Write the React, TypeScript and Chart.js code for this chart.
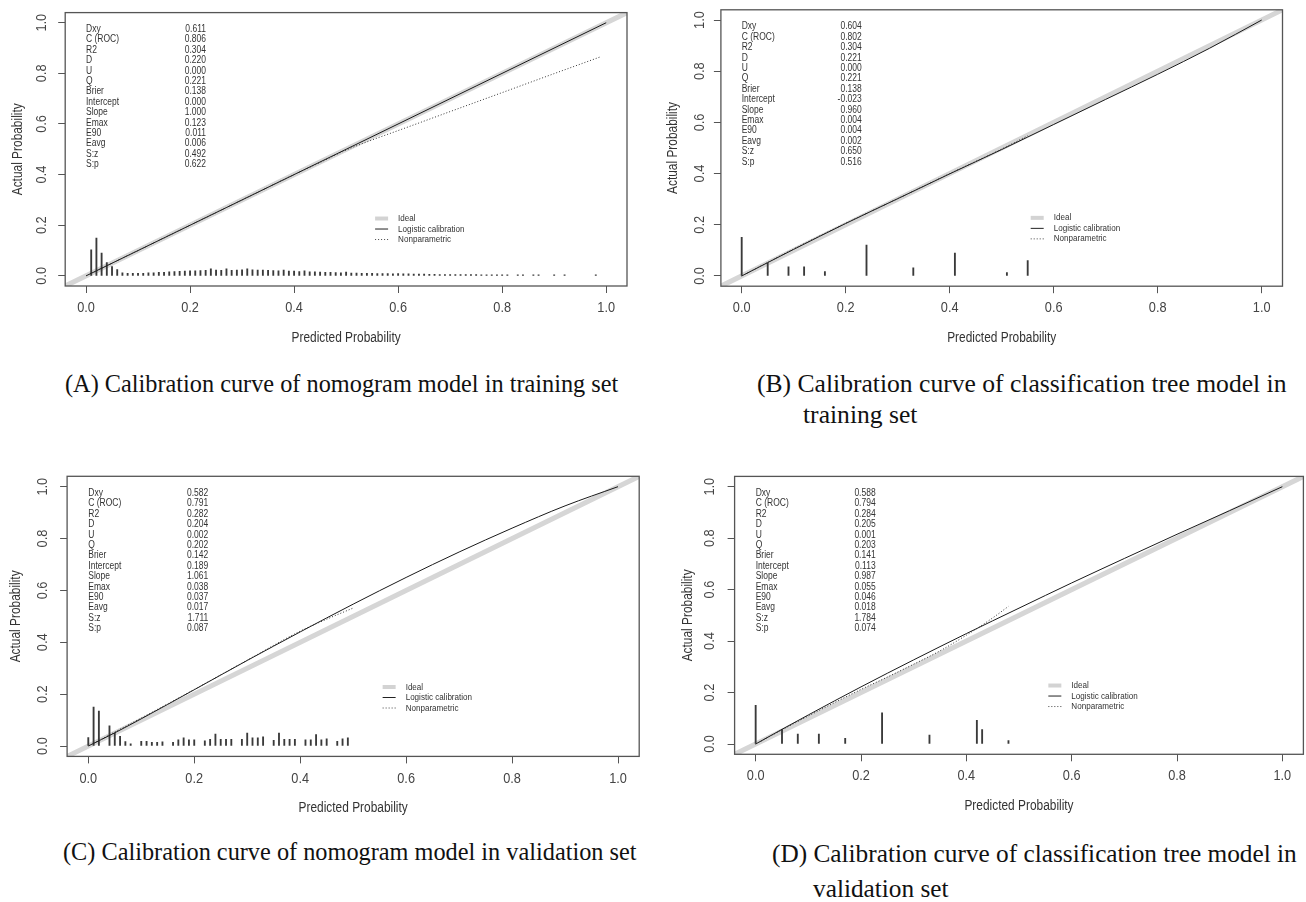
import React, { useEffect, useRef } from "react";
import { Chart, registerables } from "chart.js";
Chart.register(...registerables);

// ---------- shared axis data ----------
const xTickValues = [0, 0.2, 0.4, 0.6, 0.8, 1.0];
const yTickValues = [0, 0.2, 0.4, 0.6, 0.8, 1.0];
const axisMin = -0.04;
const axisMax = 1.04;
const idealX = [-0.04, 1.04];
const idealY = [-0.04, 1.04];
const xTitle = "Predicted Probability";
const yTitle = "Actual Probability";
const legendLabels = ["Ideal", "Logistic calibration", "Nonparametric"];
const statLabels = ["Dxy", "C (ROC)", "R2", "D", "U", "Q", "Brier", "Intercept", "Slope", "Emax", "E90", "Eavg", "S:z", "S:p"];

// ---------- Panel A : nomogram, training ----------
const statsA = ["0.611", "0.806", "0.304", "0.220", "0.000", "0.221", "0.138", "0.000", "1.000", "0.123", "0.011", "0.006", "0.492", "0.622"];
const logisticAX = [0.0, 0.25, 0.5, 0.75, 1.0];
const logisticAY = [0.0, 0.25, 0.5, 0.75, 1.0];
const nonparAX = [0.01, 0.1, 0.2, 0.3, 0.4, 0.45, 0.5, 0.55, 0.6, 0.7, 0.8, 0.9, 0.99];
const nonparAY = [0.01, 0.1, 0.2, 0.3, 0.4, 0.448, 0.497, 0.537, 0.574, 0.649, 0.724, 0.799, 0.866];
const spikeAX = [0.01, 0.02, 0.03, 0.04, 0.05, 0.06, 0.07, 0.08, 0.09, 0.10, 0.11, 0.12, 0.13, 0.14, 0.15, 0.16, 0.17, 0.18, 0.19, 0.20,
  0.21, 0.22, 0.23, 0.24, 0.25, 0.26, 0.27, 0.28, 0.29, 0.30, 0.31, 0.32, 0.33, 0.34, 0.35, 0.36, 0.37, 0.38, 0.39, 0.40,
  0.41, 0.42, 0.43, 0.44, 0.45, 0.46, 0.47, 0.48, 0.49, 0.50, 0.51, 0.52, 0.53, 0.54, 0.55, 0.56, 0.57, 0.58, 0.59, 0.60,
  0.61, 0.62, 0.63, 0.64, 0.65, 0.66, 0.67, 0.68, 0.69, 0.70, 0.71, 0.72, 0.73, 0.74, 0.75, 0.76, 0.77, 0.78, 0.79, 0.80,
  0.81, 0.83, 0.84, 0.86, 0.87, 0.90, 0.92, 0.98];
const spikeAH = [0.103, 0.149, 0.090, 0.053, 0.037, 0.025, 0.012, 0.010, 0.010, 0.010, 0.010, 0.012, 0.012, 0.014, 0.014, 0.016, 0.017, 0.018, 0.019, 0.020,
  0.020, 0.021, 0.022, 0.028, 0.023, 0.022, 0.028, 0.022, 0.023, 0.024, 0.028, 0.024, 0.023, 0.023, 0.022, 0.021, 0.020, 0.023, 0.019, 0.019,
  0.017, 0.020, 0.016, 0.016, 0.015, 0.014, 0.014, 0.013, 0.012, 0.015, 0.011, 0.011, 0.010, 0.010, 0.010, 0.009, 0.009, 0.009, 0.008, 0.009,
  0.008, 0.008, 0.007, 0.007, 0.007, 0.006, 0.006, 0.005, 0.005, 0.005, 0.005, 0.005, 0.005, 0.005, 0.005, 0.004, 0.004, 0.004, 0.004, 0.004,
  0.004, 0.004, 0.004, 0.004, 0.004, 0.004, 0.004, 0.004];

// ---------- Panel B : classification tree, training ----------
const statsB = ["0.604", "0.802", "0.304", "0.221", "0.000", "0.221", "0.138", "-0.023", "0.960", "0.004", "0.004", "0.002", "0.650", "0.516"];
const logisticBX = [0.0, 0.1, 0.2, 0.3, 0.4, 0.5, 0.6, 0.7, 0.8, 0.9, 1.0];
const logisticBY = [0.0, 0.104, 0.205, 0.302, 0.399, 0.494, 0.592, 0.690, 0.788, 0.890, 1.0];
const nonparBX = [0.0, 0.05, 0.1, 0.2, 0.3, 0.4, 0.5, 0.55];
const nonparBY = [0.0, 0.053, 0.106, 0.206, 0.302, 0.400, 0.496, 0.548];
const spikeBX = [0.0, 0.05, 0.09, 0.12, 0.16, 0.24, 0.33, 0.41, 0.51, 0.55];
const spikeBH = [0.151, 0.050, 0.036, 0.036, 0.017, 0.121, 0.032, 0.089, 0.013, 0.060];

// ---------- Panel C : nomogram, validation ----------
const statsC = ["0.582", "0.791", "0.282", "0.204", "0.002", "0.202", "0.142", "0.189", "1.061", "0.038", "0.037", "0.017", "1.711", "0.087"];
const logisticCX = [0.0, 0.05, 0.1, 0.2, 0.3, 0.4, 0.5, 0.6, 0.7, 0.8, 0.9, 1.0];
const logisticCY = [0.0, 0.051, 0.105, 0.217, 0.330, 0.440, 0.547, 0.650, 0.748, 0.840, 0.926, 1.0];
const nonparCX = [0.005, 0.05, 0.1, 0.2, 0.3, 0.4, 0.45, 0.5];
const nonparCY = [0.005, 0.054, 0.108, 0.218, 0.331, 0.443, 0.489, 0.532];
const spikeCX = [0.0, 0.01, 0.02, 0.04, 0.05, 0.06, 0.07, 0.08, 0.10, 0.11, 0.12, 0.13, 0.14, 0.16, 0.17, 0.18, 0.19, 0.20,
  0.22, 0.23, 0.24, 0.25, 0.26, 0.27, 0.29, 0.30, 0.31, 0.32, 0.33, 0.35, 0.36, 0.37, 0.38, 0.39, 0.41, 0.42, 0.43, 0.44, 0.45,
  0.47, 0.48, 0.49];
const spikeCH = [0.033, 0.150, 0.135, 0.078, 0.050, 0.037, 0.017, 0.008, 0.018, 0.018, 0.014, 0.014, 0.016, 0.014, 0.024, 0.032, 0.024, 0.024,
  0.020, 0.026, 0.046, 0.026, 0.026, 0.026, 0.026, 0.050, 0.032, 0.032, 0.035, 0.022, 0.050, 0.026, 0.026, 0.026, 0.024, 0.024, 0.044, 0.024, 0.028,
  0.018, 0.028, 0.032];

// ---------- Panel D : classification tree, validation ----------
const statsD = ["0.588", "0.794", "0.284", "0.205", "0.001", "0.203", "0.141", "0.113", "0.987", "0.055", "0.046", "0.018", "1.784", "0.074"];
const logisticDX = [0.0, 0.05, 0.1, 0.2, 0.3, 0.4, 0.5, 0.6, 0.7, 0.8, 0.9, 1.0];
const logisticDY = [0.0, 0.057, 0.113, 0.222, 0.327, 0.429, 0.528, 0.626, 0.721, 0.815, 0.907, 1.0];
const nonparDX = [0.0, 0.05, 0.1, 0.2, 0.25, 0.3, 0.35, 0.4, 0.45, 0.48];
const nonparDY = [0.0, 0.055, 0.109, 0.212, 0.260, 0.310, 0.362, 0.423, 0.490, 0.535];
const spikeDX = [0.0, 0.05, 0.08, 0.12, 0.17, 0.24, 0.33, 0.42, 0.43, 0.48];
const spikeDH = [0.150, 0.056, 0.039, 0.039, 0.022, 0.121, 0.035, 0.092, 0.056, 0.013];

// ---------- captions ----------
const captionA = ["(A) Calibration curve of nomogram model in training set"];
const captionB = ["(B) Calibration curve of classification tree model in", "training set"];
const captionC = ["(C) Calibration curve of nomogram model in validation set"];
const captionD = ["(D) Calibration curve of classification tree model in", "validation set"];

// ---------- layout (pixels, not data) ----------
type Panel = {
  key: string;
  canvas: { left: number; top: number; width: number; height: number };
  box: { l: number; t: number; r: number; b: number };
  yTickOff: number;
  yTitleOff: number;
  stats: string[];
  lx: number[]; ly: number[];
  nx: number[]; ny: number[];
  sx: number[]; sh: number[];
};

const panels: Panel[] = [
  { key: "A", canvas: { left: 0, top: 0, width: 655, height: 360 }, box: { l: 65.2, t: 12.6, r: 627, b: 286 },
    yTickOff: 23, yTitleOff: 47, stats: statsA, lx: logisticAX, ly: logisticAY, nx: nonparAX, ny: nonparAY, sx: spikeAX, sh: spikeAH },
  { key: "B", canvas: { left: 655, top: 0, width: 651, height: 360 }, box: { l: 65.9, t: 9.8, r: 627.5, b: 286.2 },
    yTickOff: 21, yTitleOff: 48, stats: statsB, lx: logisticBX, ly: logisticBY, nx: nonparBX, ny: nonparBY, sx: spikeBX, sh: spikeBH },
  { key: "C", canvas: { left: 0, top: 460, width: 655, height: 360 }, box: { l: 67.1, t: 16.3, r: 639.2, b: 296.4 },
    yTickOff: 24, yTitleOff: 51, stats: statsC, lx: logisticCX, ly: logisticCY, nx: nonparCX, ny: nonparCY, sx: spikeCX, sh: spikeCH },
  { key: "D", canvas: { left: 655, top: 460, width: 651, height: 360 }, box: { l: 79.6, t: 16.4, r: 648.4, b: 294.3 },
    yTickOff: 25, yTitleOff: 46, stats: statsD, lx: logisticDX, ly: logisticDY, nx: nonparDX, ny: nonparDY, sx: spikeDX, sh: spikeDH },
];

const SANS = '"Liberation Sans", Arial, sans-serif';
const SQUEEZE = 0.85;

function drawText(ctx: CanvasRenderingContext2D, s: string, x: number, y: number, size: number,
  align: CanvasTextAlign, color: string, rot = 0) {
  ctx.save();
  ctx.translate(x, y);
  if (rot) ctx.rotate(rot);
  ctx.scale(SQUEEZE, 1);
  ctx.font = `${size}px ${SANS}`;
  ctx.textAlign = align;
  ctx.textBaseline = "middle";
  ctx.fillStyle = color;
  ctx.fillText(s, 0, 0);
  ctx.restore();
}

function pts(xs: number[], ys: number[]) {
  return xs.map((x, i) => ({ x, y: ys[i] }));
}

function CalPanel({ p }: { p: Panel }) {
  const ref = useRef<HTMLCanvasElement | null>(null);
  useEffect(() => {
    if (!ref.current) return;
    const W = p.canvas.width;
    const H = p.canvas.height;
    const decor = {
      id: "decor" + p.key,
      afterDraw(chart: any) {
        const ctx = chart.ctx as CanvasRenderingContext2D;
        const a = chart.chartArea;
        const xs = chart.scales.x;
        const ys = chart.scales.y;
        // box
        ctx.save();
        ctx.strokeStyle = "#555";
        ctx.lineWidth = 1.3;
        ctx.strokeRect(a.left, a.top, a.right - a.left, a.bottom - a.top);
        ctx.restore();
        // tick labels
        xs.ticks.forEach((t: any) => drawText(ctx, t.value.toFixed(1), xs.getPixelForValue(t.value), a.bottom + 22, 15, "center", "#444"));
        ys.ticks.forEach((t: any) => drawText(ctx, t.value.toFixed(1), a.left - p.yTickOff, ys.getPixelForValue(t.value), 15, "center", "#444", -Math.PI / 2));
        // axis titles
        drawText(ctx, xTitle, (a.left + a.right) / 2, a.bottom + 52, 14, "center", "#333");
        drawText(ctx, yTitle, a.left - p.yTitleOff, (a.top + a.bottom) / 2, 14, "center", "#333", -Math.PI / 2);
        // statistics table at data (0, 0.99)
        const sx0 = xs.getPixelForValue(0);
        const sy0 = ys.getPixelForValue(0.99) + 4;
        statLabels.forEach((lab, i) => {
          drawText(ctx, lab, sx0, sy0 + i * 10.4, 10, "left", "#333");
          drawText(ctx, p.stats[i], sx0 + 120, sy0 + i * 10.4, 10, "right", "#333");
        });
        // legend at data (0.55, 0.27)
        const lx0 = xs.getPixelForValue(0.55);
        const ly0 = ys.getPixelForValue(0.27);
        const rows = [11, 21.5, 32];
        ctx.save();
        ctx.lineCap = "butt";
        ctx.strokeStyle = "#d3d3d3"; ctx.lineWidth = 4;
        ctx.beginPath(); ctx.moveTo(lx0 + 3, ly0 + rows[0]); ctx.lineTo(lx0 + 16, ly0 + rows[0]); ctx.stroke();
        ctx.strokeStyle = "#222"; ctx.lineWidth = 1;
        ctx.beginPath(); ctx.moveTo(lx0 + 3, ly0 + rows[1]); ctx.lineTo(lx0 + 16, ly0 + rows[1]); ctx.stroke();
        ctx.strokeStyle = "#444"; ctx.setLineDash([1, 2]);
        ctx.beginPath(); ctx.moveTo(lx0 + 3, ly0 + rows[2]); ctx.lineTo(lx0 + 16, ly0 + rows[2]); ctx.stroke();
        ctx.restore();
        legendLabels.forEach((lab, i) => drawText(ctx, lab, lx0 + 26, ly0 + rows[i], 9.5, "left", "#333"));
      },
    };
    const tickGrid = { drawOnChartArea: false, drawTicks: true, tickLength: 7, color: "#555", tickColor: "#555", lineWidth: 1 };
    const chart = new Chart(ref.current, {
      type: "line",
      data: {
        datasets: [
          { type: "line", data: pts(p.nx, p.ny), borderColor: "#333", borderWidth: 1, borderDash: [1, 2], pointRadius: 0,
            cubicInterpolationMode: "monotone", fill: false, order: 0 } as any,
          { type: "line", data: pts(p.lx, p.ly), borderColor: "#1a1a1a", borderWidth: 1, pointRadius: 0,
            cubicInterpolationMode: "monotone", fill: false, order: 1 } as any,
          { type: "bar", data: pts(p.sx, p.sh), backgroundColor: "#3a3a3a", borderWidth: 0, barThickness: 1.2, grouped: false, order: 2 } as any,
          { type: "line", data: pts(idealX, idealY), borderColor: "#d6d6d6", borderWidth: 5, pointRadius: 0, fill: false, order: 3 } as any,
        ],
      },
      options: {
        responsive: false,
        maintainAspectRatio: false,
        animation: false,
        events: [],
        layout: { padding: { left: 0, top: p.box.t, right: W - p.box.r, bottom: 0 } },
        plugins: { legend: { display: false }, tooltip: { enabled: false }, title: { display: false } },
        scales: {
          x: {
            type: "linear", min: axisMin, max: axisMax, offset: false,
            afterBuildTicks: (s: any) => { s.ticks = xTickValues.map((v) => ({ value: v })); },
            afterFit: (s: any) => { s.height = H - p.box.b; },
            ticks: { display: false },
            grid: { ...tickGrid, offset: false },
            border: { display: false },
          },
          y: {
            type: "linear", min: axisMin, max: axisMax, offset: false,
            afterBuildTicks: (s: any) => { s.ticks = yTickValues.map((v) => ({ value: v })); },
            afterFit: (s: any) => { s.width = p.box.l; },
            ticks: { display: false },
            grid: tickGrid,
            border: { display: false },
          },
        },
      } as any,
      plugins: [decor],
    });
    return () => chart.destroy();
  }, [p]);
  return (
    <canvas
      ref={ref}
      width={p.canvas.width}
      height={p.canvas.height}
      style={{ position: "absolute", left: p.canvas.left, top: p.canvas.top, width: p.canvas.width, height: p.canvas.height }}
    />
  );
}

const SERIF = '"Liberation Serif", "Times New Roman", serif';

function Caption({ lines, left, top, size, indentLeft, gap }: { lines: string[]; left: number; top: number; size: number; indentLeft?: number; gap?: number }) {
  return (
    <>
      {lines.map((ln, i) => (
        <div
          key={i}
          style={{
            position: "absolute",
            left: i === 0 ? left : indentLeft,
            top: top + i * (gap || 0),
            fontFamily: SERIF,
            fontSize: size,
            lineHeight: `${size}px`,
            whiteSpace: "nowrap",
            color: "#111",
          }}
        >
          {ln}
        </div>
      ))}
    </>
  );
}

export default function App() {
  return (
    <div style={{ position: "absolute", left: 0, top: 0, width: 1306, height: 902, background: "#fff", overflow: "hidden" }}>
      {panels.map((p) => <CalPanel key={p.key} p={p} />)}
      <Caption lines={captionA} left={65} top={372} size={24.3} />
      <Caption lines={captionB} left={757} top={371} size={25.6} indentLeft={803} gap={31} />
      <Caption lines={captionC} left={63} top={840} size={24.3} />
      <Caption lines={captionD} left={772} top={841} size={25.3} indentLeft={813} gap={35} />
    </div>
  );
}
